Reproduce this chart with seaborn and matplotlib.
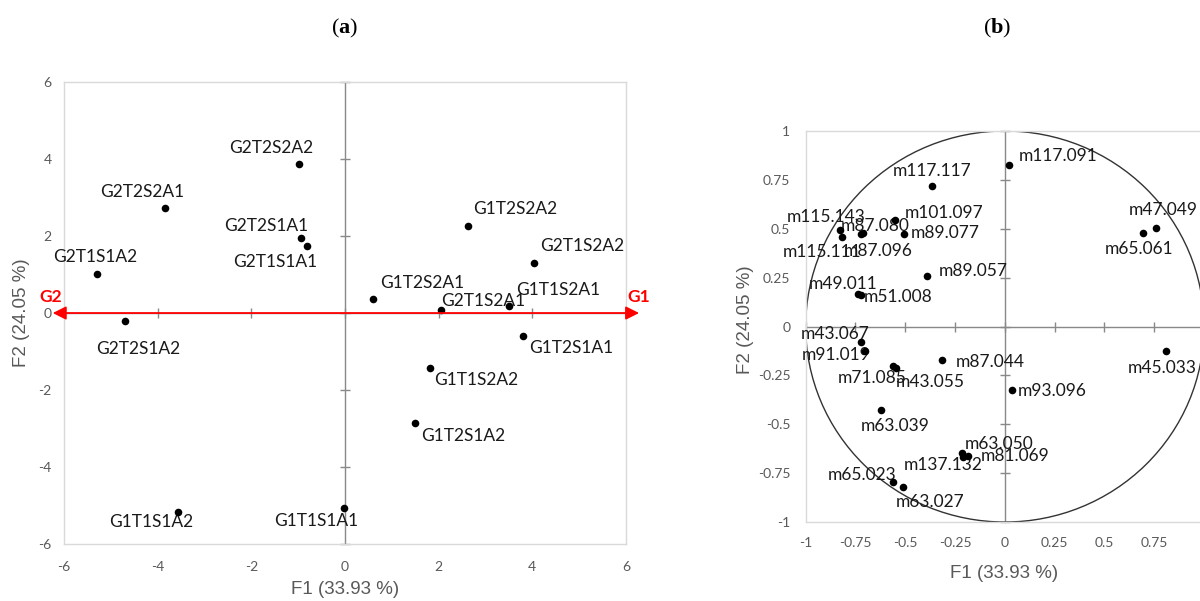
import matplotlib
matplotlib.use("Agg")
import matplotlib.pyplot as plt
from matplotlib.patches import Circle
import seaborn as sns
import pandas as pd

sns.set_theme(style="white")
plt.rcParams["font.family"] = ["Lato", "DejaVu Sans"]
plt.rcParams["mathtext.fontset"] = "custom"
plt.rcParams["mathtext.rm"] = "Liberation Serif"
plt.rcParams["mathtext.bf"] = "Liberation Serif:bold"

# (a) observation scores on F1/F2
obs_names = [
    "G2T2S2A2", "G2T2S2A1", "G2T2S1A1", "G2T1S1A1", "G2T1S1A2", "G2T2S1A2",
    "G1T2S2A2", "G2T1S2A2", "G1T2S2A1", "G2T1S2A1", "G1T1S2A1", "G1T2S1A1",
    "G1T1S2A2", "G1T2S1A2", "G1T1S1A2", "G1T1S1A1",
]
obs_f1 = [-0.98, -3.85, -0.94, -0.81, -5.30, -4.70,
          2.62, 4.04, 0.60, 2.06, 3.51, 3.81,
          1.81, 1.49, -3.57, -0.02]
obs_f2 = [3.87, 2.73, 1.95, 1.74, 1.01, -0.21,
          2.26, 1.30, 0.36, 0.08, 0.18, -0.60,
          -1.43, -2.86, -5.17, -5.06]

# (b) variable loadings on F1/F2
var_names = [
    "m117.117", "m117.091", "m115.143", "m115.111", "m87.080", "m87.096",
    "m101.097", "m89.077", "m89.057", "m49.011", "m51.008", "m47.049",
    "m65.061", "m43.067", "m91.019", "m71.085", "m43.055", "m87.044",
    "m93.096", "m45.033", "m63.039", "m63.050", "m137.132", "m81.069",
    "m65.023", "m63.027",
]
var_f1 = [-0.364, 0.020, -0.827, -0.820, -0.722, -0.713,
          -0.553, -0.506, -0.393, -0.738, -0.723, 0.758,
          0.693, -0.723, -0.700, -0.560, -0.548, -0.314,
          0.037, 0.807, -0.620, -0.216, -0.209, -0.187,
          -0.560, -0.510]
var_f2 = [0.720, 0.826, 0.494, 0.458, 0.473, 0.480,
          0.545, 0.475, 0.260, 0.168, 0.160, 0.504,
          0.480, -0.080, -0.124, -0.204, -0.210, -0.173,
          -0.326, -0.124, -0.429, -0.645, -0.666, -0.661,
          -0.794, -0.819]

a_ticks = [-6, -4, -2, 0, 2, 4, 6]
a_ticklabels = ["-6", "-4", "-2", "0", "2", "4", "6"]
b_ticks = [-1, -0.75, -0.5, -0.25, 0, 0.25, 0.5, 0.75, 1]
b_ticklabels = ["-1", "-0.75", "-0.5", "-0.25", "0", "0.25", "0.5", "0.75", "1"]
x_title = "F1 (33.93 %)"
y_title = "F2 (24.05 %)"

# label placement (pixels from the point, screen y downwards)
obs_offsets = {
    "G2T2S2A2": (-28, -16), "G2T2S2A1": (-22, -16), "G2T2S1A1": (-35, -12),
    "G2T1S1A1": (-32, 16), "G2T1S1A2": (-2, -17), "G2T2S1A2": (13, 28),
    "G1T2S2A2": (48, -17), "G2T1S2A2": (48, -17), "G1T2S2A1": (49, -16),
    "G2T1S2A1": (42, -9), "G1T1S2A1": (49, -16), "G1T2S1A1": (48, 12),
    "G1T1S2A2": (46, 12), "G1T2S1A2": (48, 13), "G1T1S1A2": (-27, 10),
    "G1T1S1A1": (-28, 13),
}
var_offsets = {
    "m117.117": (0, -15), "m117.091": (49, -9), "m115.143": (-14, -13),
    "m115.111": (-19, 15), "m87.080": (14, -8), "m87.096": (15, 18),
    "m101.097": (49, -7), "m89.077": (41, -1), "m89.057": (47, -5),
    "m49.011": (-15, -10), "m51.008": (37, 2), "m47.049": (7, -18),
    "m65.061": (-4, 16), "m43.067": (-26, -8), "m91.019": (-29, 4),
    "m71.085": (-21, 12), "m43.055": (35, 14), "m87.044": (48, 2),
    "m93.096": (40, 1), "m45.033": (-3, 17), "m63.039": (14, 16),
    "m63.050": (37, -9), "m137.132": (-20, 8), "m81.069": (47, 0),
    "m65.023": (-31, -7), "m63.027": (27, 15),
}

FRAME = "#d9d9d9"
AXIS = "#898989"
TEXT_GREY = "#595959"
LABEL_FONT = ["Liberation Sans", "DejaVu Sans"]


def style_panel(ax, ticks, ticklabels, xpad, ypad):
    lo, hi = ticks[0], ticks[-1]
    ax.set_xlim(lo, hi)
    ax.set_ylim(lo, hi)
    ax.set_xticks(ticks, ticklabels)
    ax.set_yticks(ticks, ticklabels)
    ax.tick_params(length=0, labelsize=10, colors=TEXT_GREY)
    ax.tick_params(axis="x", pad=xpad)
    ax.tick_params(axis="y", pad=ypad)
    for sp in ax.spines.values():
        sp.set_color(FRAME)
        sp.set_linewidth(1)
    ax.grid(False)
    # axes crossing at the origin, with cross tick marks
    ax.axvline(0, color=AXIS, lw=1, zorder=1)
    ax.axhline(0, color=AXIS, lw=1, zorder=1)
    ax.plot([0] * len(ticks), ticks, ls="none", marker="_", ms=7,
            mew=1, color=AXIS, zorder=1, clip_on=False)
    ax.plot(ticks, [0] * len(ticks), ls="none", marker="|", ms=7,
            mew=1, color=AXIS, zorder=1, clip_on=False)


def label_points(ax, names, xs, ys, offsets):
    for name, x, y in zip(names, xs, ys):
        dx, dy = offsets[name]
        ax.annotate(name, (x, y), xytext=(dx, -dy), textcoords="offset pixels",
                    ha="center", va="center", fontsize=12.5, color="#1a1a1a",
                    annotation_clip=False)


fig = plt.figure(figsize=(12, 6.01), dpi=100)
fig.patch.set_facecolor("white")

# ---- panel (a) ----
ax_a = fig.add_axes([0.0533, 0.0948, 0.4683, 0.7687])
obs = pd.DataFrame({"name": obs_names, "F1": obs_f1, "F2": obs_f2})
style_panel(ax_a, a_ticks, a_ticklabels, xpad=12, ypad=9)
sns.scatterplot(data=obs, x="F1", y="F2", ax=ax_a, color="black", s=30,
                linewidth=0, zorder=4, legend=False)
ax_a.set_xlabel("")
ax_a.set_ylabel("")
label_points(ax_a, obs_names, obs_f1, obs_f2, obs_offsets)

# red G2 <-> G1 arrow along F1
ax_a.annotate("", xy=(a_ticks[-1] * 1.047, 0), xytext=(a_ticks[0] * 1.04, 0),
              arrowprops=dict(arrowstyle="<|-|>", color="red", lw=1.3,
                              mutation_scale=20, shrinkA=0, shrinkB=0),
              annotation_clip=False, zorder=5)
ax_a.text(a_ticks[-1] * 1.047, 0.42, "G1", color="red", fontweight="bold",
          fontsize=12.5, ha="center", va="center", clip_on=False)
ax_a.text(a_ticks[0] * 1.047, 0.42, "G2", color="red", fontweight="bold",
          fontsize=12.5, ha="center", va="center", clip_on=False)

# ---- panel (b) ----
ax_b = fig.add_axes([0.6714, 0.1314, 0.332, 0.6506])
var = pd.DataFrame({"name": var_names, "F1": var_f1, "F2": var_f2})
style_panel(ax_b, b_ticks, b_ticklabels, xpad=11, ypad=11)
ax_b.add_patch(Circle((0, 0), 1, fill=False, color="#333333", lw=1, zorder=2))
sns.scatterplot(data=var, x="F1", y="F2", ax=ax_b, color="black", s=30,
                linewidth=0, zorder=4, legend=False)
ax_b.set_xlabel("")
ax_b.set_ylabel("")
label_points(ax_b, var_names, var_f1, var_f2, var_offsets)

# axis titles
fig.text(345 / 1200, 1 - 590 / 601, x_title, ha="center", va="center",
         fontsize=13.5, family=LABEL_FONT, color=TEXT_GREY)
fig.text(21 / 1200, 1 - 313 / 601, y_title, ha="center", va="center",
         rotation=90, fontsize=13.5, family=LABEL_FONT, color=TEXT_GREY)
fig.text(1004 / 1200, 1 - 574 / 601, x_title, ha="center", va="center",
         fontsize=13.5, family=LABEL_FONT, color=TEXT_GREY)
fig.text(746 / 1200, 1 - 320 / 601, y_title, ha="center", va="center",
         rotation=90, fontsize=13.5, family=LABEL_FONT, color=TEXT_GREY)

# panel letters
for cx, letter in [(345, "a"), (997, "b")]:
    fig.text(cx / 1200, 1 - 28 / 601, r"$\mathrm{(}\mathbf{" + letter + r"}\mathrm{)}$",
             ha="center", va="center", fontsize=16, color="black")

fig.savefig("out.png", dpi=100)
plt.close(fig)
